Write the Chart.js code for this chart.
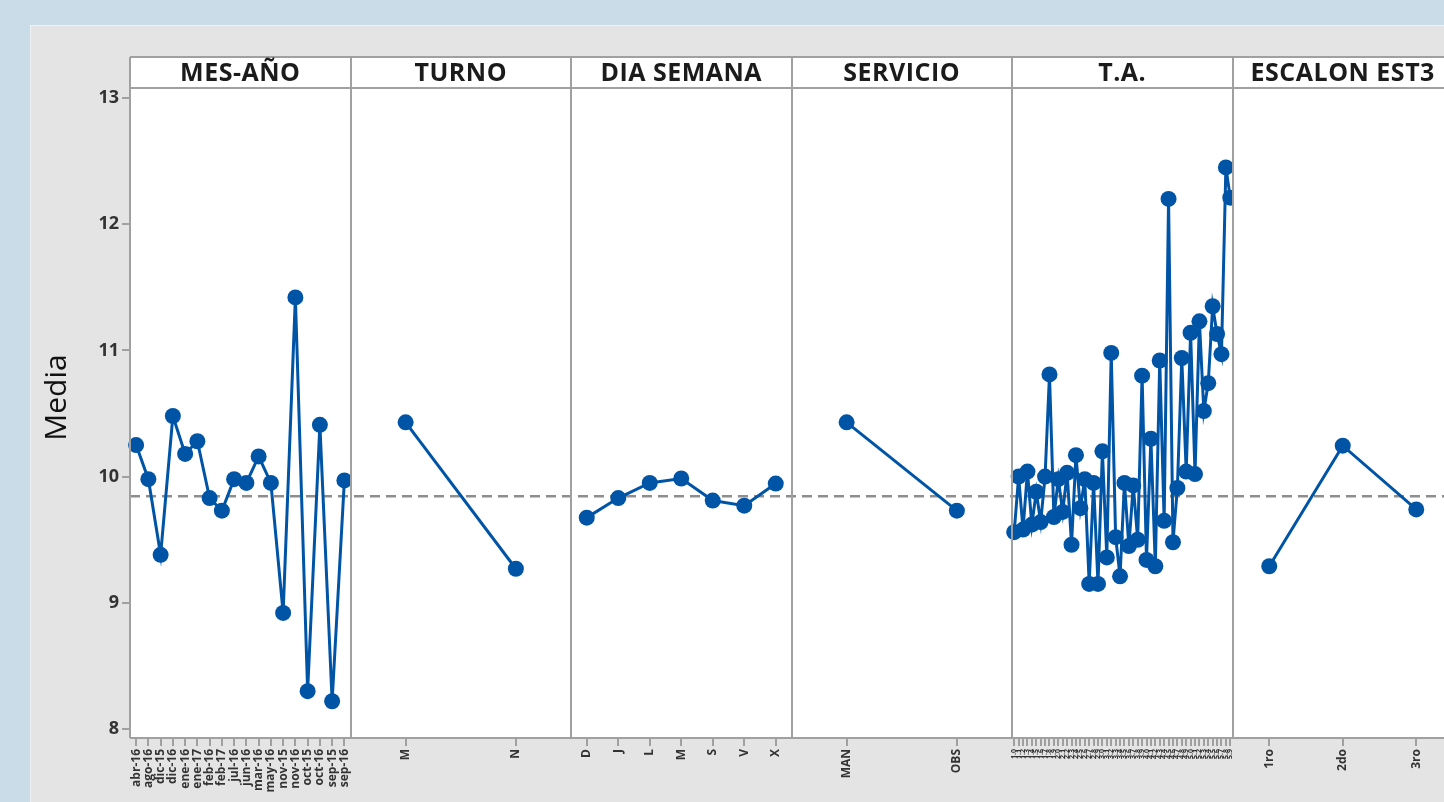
<!DOCTYPE html>
<html>
<head>
<meta charset="utf-8">
<script src="https://cdn.jsdelivr.net/npm/chart.js@4"></script>
<style>
  html, body { margin: 0; padding: 0; width: 1444px; height: 802px; overflow: hidden; background: #cbdce9; }
  #frame { position: absolute; left: 30px; top: 25px; width: 1500px; height: 800px; background: #e4e4e4;
           border-top: 1px solid #eef2f5; border-left: 1px solid #eef2f5; }
  #wrap { position: absolute; left: 30px; top: 25px; width: 1433px; height: 777px; }
</style>
</head>
<body>
<div id="frame"></div>
<div id="wrap"><canvas id="c" width="1433" height="777"></canvas></div>
<script>
// Main effects plot of Media, one panel per factor.
const panelTitles = ['MES-AÑO', 'TURNO', 'DIA SEMANA', 'SERVICIO', 'T.A.', 'ESCALON EST3'];

const mesAnoLabels = ['abr-16', 'ago-16', 'dic-15', 'dic-16', 'ene-16', 'ene-17', 'feb-16', 'feb-17', 'jul-16',
                      'jun-16', 'mar-16', 'may-16', 'nov-15', 'nov-16', 'oct-15', 'oct-16', 'sep-15', 'sep-16'];
const mesAnoMeans = [10.25, 9.98, 9.38, 10.48, 10.18, 10.28, 9.83, 9.73, 9.98,
                     9.95, 10.16, 9.95, 8.92, 11.42, 8.30, 10.41, 8.22, 9.97];

const turnoLabels = ['M', 'N'];
const turnoMeans = [10.43, 9.27];

const diaLabels = ['D', 'J', 'L', 'M', 'S', 'V', 'X'];
const diaMeans = [9.675, 9.83, 9.95, 9.985, 9.81, 9.77, 9.945];

const servicioLabels = ['MAN', 'OBS'];
const servicioMeans = [10.43, 9.73];

const taLabels = ['1.0', '1.1', '1.2', '1.3', '1.4', '1.5', '1.6', '1.7', '1.8', '1.9',
                  '2.0', '2.1', '2.2', '2.3', '2.4', '2.5', '2.6', '2.7', '2.8', '2.9',
                  '3.0', '3.1', '3.2', '3.3', '3.4', '3.5', '3.6', '3.7', '3.8', '3.9',
                  '4.0', '4.1', '4.2', '4.3', '4.4', '4.5', '4.6', '4.7', '4.8', '4.9',
                  '5.0', '5.1', '5.2', '5.3', '5.4', '5.5', '5.6', '5.7', '5.8', '5.9'];
const taMeans = [9.56, 10.00, 9.58, 10.04, 9.62, 9.88, 9.64, 10.00, 10.81, 9.68,
                 9.98, 9.72, 10.03, 9.46, 10.17, 9.75, 9.98, 9.15, 9.95, 9.15,
                 10.20, 9.36, 10.98, 9.52, 9.21, 9.95, 9.45, 9.93, 9.50, 10.80,
                 9.34, 10.30, 9.29, 10.92, 9.65, 12.20, 9.48, 9.91, 10.94, 10.04,
                 11.14, 10.02, 11.23, 10.52, 10.74, 11.35, 11.13, 10.97, 12.45, 12.21];

const escalonLabels = ['1ro', '2do', '3ro'];
const escalonMeans = [9.29, 10.245, 9.74];

const grandMean = 9.845;
const yTicks = [8, 9, 10, 11, 12, 13];

const BLUE = '#0054a6';
const FRAME = '#a0a0a0';
const FONT = "'Open Sans', 'Noto Sans', sans-serif";

const CANVAS_W = 1433, AXIS_W = 100, PAD_RIGHT = 10;

const panels = [
  { title: panelTitles[0], labels: mesAnoLabels, means: mesAnoMeans },
  { title: panelTitles[1], labels: turnoLabels, means: turnoMeans },
  { title: panelTitles[2], labels: diaLabels, means: diaMeans },
  { title: panelTitles[3], labels: servicioLabels, means: servicioMeans },
  { title: panelTitles[4], labels: taLabels, means: taMeans },
  { title: panelTitles[5], labels: escalonLabels, means: escalonMeans }
];
const panelPx = (CANVAS_W - AXIS_W - PAD_RIGHT) / panels.length;

// Each panel spans one unit of the x scale; its levels sit at the middle of equal slots.
const slot = (k, i, n) => k + (i + 0.5) / n;

const tickValues = [], tickText = [], tickPanel = [];
panels.forEach((p, k) => p.labels.forEach((lab, i) => {
  tickValues.push(slot(k, i, p.labels.length));
  tickText.push(lab);
  tickPanel.push(k);
}));

const datasets = panels.map((p, k) => ({
  label: p.title,
  data: p.means.map((v, i) => ({ x: slot(k, i, p.means.length), y: v })),
  borderColor: BLUE,
  backgroundColor: BLUE,
  borderWidth: 3,
  pointRadius: 8,
  pointHoverRadius: 8,
  pointBorderWidth: 0,
  pointBackgroundColor: BLUE,
  tension: 0,
  // keep markers inside their own panel on the right-hand side
  clip: { left: 20, top: 20, bottom: 20, right: k === panels.length - 1 ? 20 : -(panels.length - 1 - k) * panelPx },
  order: 0
}));
datasets.push({
  label: 'Media general',
  data: [{ x: 0, y: grandMean }, { x: panels.length, y: grandMean }],
  borderColor: '#8e8e8e',
  borderWidth: 2.5,
  borderDash: [10, 6],
  pointRadius: 0,
  order: 1
});

const HEADER_H = 31;

// Draws the white panel backgrounds, panel frames, factor headers and the y title.
const panelFrame = {
  id: 'panelFrame',
  beforeDraw(chart) {
    const { ctx, chartArea: a } = chart;
    ctx.save();
    ctx.fillStyle = '#ffffff';
    ctx.fillRect(a.left, a.top - HEADER_H, a.right - a.left, a.bottom - a.top + HEADER_H);
    ctx.restore();
  },
  afterDatasetsDraw(chart) {
    const { ctx, chartArea: a, scales: { x } } = chart;
    const top = a.top - HEADER_H;
    ctx.save();
    ctx.strokeStyle = FRAME;
    ctx.lineWidth = 2;
    ctx.beginPath();
    ctx.moveTo(a.left, top); ctx.lineTo(a.right, top);
    ctx.moveTo(a.left, a.top); ctx.lineTo(a.right, a.top);
    ctx.moveTo(a.left, a.bottom); ctx.lineTo(a.right, a.bottom);
    for (let k = 0; k <= panels.length; k++) {
      const px = Math.round(x.getPixelForValue(k));
      ctx.moveTo(px, top); ctx.lineTo(px, a.bottom);
    }
    ctx.stroke();

    ctx.fillStyle = '#1b1b1b';
    ctx.font = `700 25px ${FONT}`;
    ctx.letterSpacing = '0.5px';
    ctx.textAlign = 'center';
    ctx.textBaseline = 'middle';
    panels.forEach((p, k) => {
      const cx = (x.getPixelForValue(k) + x.getPixelForValue(k + 1)) / 2;
      ctx.fillText(p.title, cx, top + HEADER_H / 2 + 1);
    });

    ctx.letterSpacing = '0px';
    ctx.translate(a.left - 73, (top + a.bottom) / 2);
    ctx.rotate(-Math.PI / 2);
    ctx.font = `400 30px ${FONT}`;
    ctx.fillStyle = '#111';
    ctx.fillText('Media', 0, 0);
    ctx.restore();
  }
};

new Chart(document.getElementById('c'), {
  type: 'line',
  data: { datasets },
  plugins: [panelFrame],
  options: {
    responsive: false,
    animation: false,
    events: [],
    layout: { padding: { top: 63, right: PAD_RIGHT, left: 0, bottom: 0 }, autoPadding: false },
    plugins: { legend: { display: false }, tooltip: { enabled: false } },
    scales: {
      x: {
        type: 'linear',
        min: 0,
        max: panels.length,
        afterBuildTicks: s => { s.ticks = tickValues.map(v => ({ value: v })); },
        afterFit: s => { s.height = 64; },
        border: { display: false },
        grid: { drawOnChartArea: false, drawTicks: true, tickLength: 8, color: FRAME, lineWidth: 2 },
        ticks: {
          autoSkip: false,
          minRotation: 90,
          maxRotation: 90,
          padding: 3,
          color: '#333',
          callback: (v, i) => tickText[i],
          font: c => tickPanel[c.index] === 4
            ? { family: FONT, size: 7, weight: 'bold' }
            : { family: FONT, size: 12, weight: 'bold' }
        }
      },
      y: {
        min: 7.929,
        max: 13.079,
        afterBuildTicks: s => { s.ticks = yTicks.map(v => ({ value: v })); },
        afterFit: s => { s.width = AXIS_W; },
        border: { display: false },
        grid: { drawOnChartArea: false, drawTicks: true, tickLength: 8, color: FRAME, lineWidth: 2 },
        ticks: { color: '#333', padding: 3, font: { family: FONT, size: 18, weight: 'bold' } }
      }
    }
  }
});
</script>
</body>
</html>
